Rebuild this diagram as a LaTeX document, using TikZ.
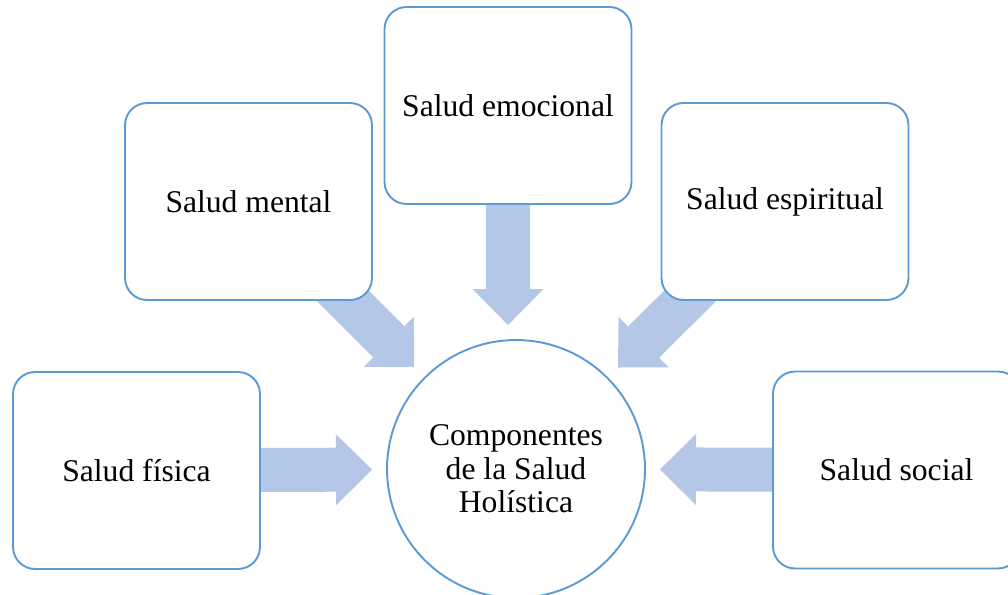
\documentclass[tikz,border=0pt]{standalone}
\usepackage{fontspec}
\setmainfont{Liberation Serif}
\usetikzlibrary{arrows.meta, backgrounds}
\definecolor{borde}{HTML}{5B9BD5}
\definecolor{flecha}{HTML}{B4C7E7}

\begin{document}
\begin{tikzpicture}[x=0.02cm, y=-0.02cm]

    \tikzstyle{area}=[rectangle, rounded corners=0.44cm, draw=borde, fill=white, line width=1.1pt, minimum width=4.94cm, minimum height=3.94cm, font=\fontsize{18}{19}\selectfont];
    \tikzstyle{flow}=[line width=0.88cm, draw=flecha, -{Triangle[width=1.42cm, length=0.72cm, line width=0pt]}, shorten >=0.28cm];

    \useasboundingbox (0, 0) rectangle (1008, 595);

    \node[circle, draw=borde, line width=1.1pt, minimum size=5.16cm, inner sep=0pt, align=center, font=\fontsize{18}{19}\selectfont] (0) at (516, 469) {Componentes\\de la Salud\\Holística};

    \node (1) at (136.5, 470.5) [area] {Salud física};
    \node (2) at (248.5, 201.5) [area] {Salud mental};
    \node (3) at (508, 105.5)   [area] {Salud emocional};
    \node (4) at (785, 201.5)   [area] {Salud espiritual};
    \node (5) at (896.5, 470)   [area] {Salud social};

    \coordinate (e) at (3.south |- 0.north);

    % arrows go under the boxes
    \begin{pgfonlayer}{background}
    \draw (1.center) edge[flow] (0);
    \draw (2.center) edge[flow] (0);
    \draw (3.center) edge[flow] (e);
    \draw (4.center) edge[flow] (0);
    \draw (5.center) edge[flow] (0);
    \end{pgfonlayer}

\end{tikzpicture}
\end{document}
